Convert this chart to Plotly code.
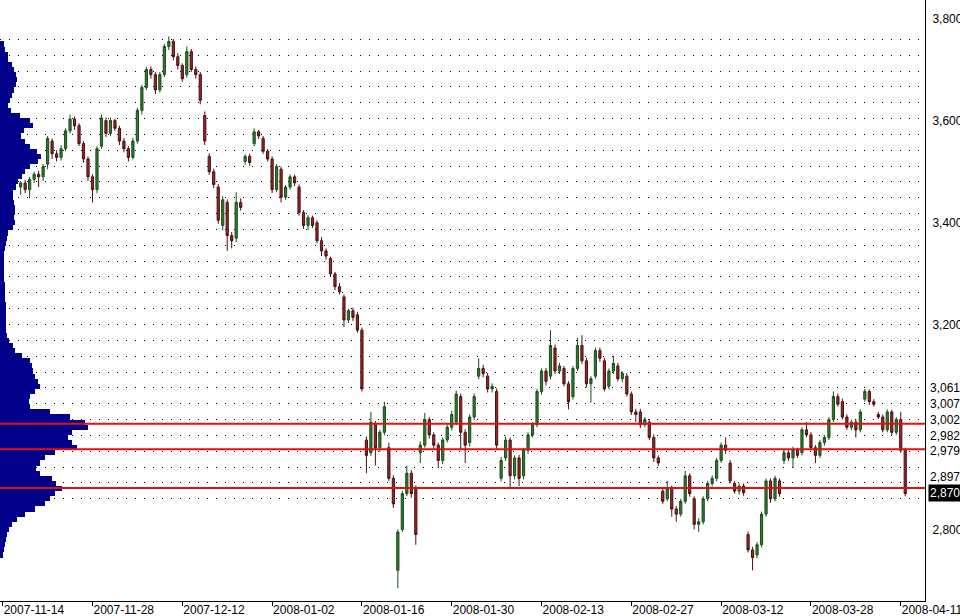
import plotly.graph_objects as go

# ---------------- data ----------------
tick_dates = ["2007-11-14", "2007-11-28", "2007-12-12", "2008-01-02", "2008-01-16",
              "2008-01-30", "2008-02-13", "2008-02-27", "2008-03-12", "2008-03-28", "2008-04-11"]
tick_bars = list(range(0, 201, 20))  # two bars per trading day, ten days between labels
first_bar = 4

open_ = [
    3470,3478,3465,3485,3495,3490,3515,3560,3535,3528,
    3545,3580,3603,3590,3555,3525,3490,3465,3550,3600,
    3575,3600,3585,3560,3545,3528,3560,3620,3665,3700,
    3690,3660,3690,3745,3755,3725,3708,3690,3735,3700,
    3690,3610,3530,3500,3470,3395,3440,3375,3370,3440,
    3520,3530,3555,3578,3565,3540,3525,3465,3505,3450,
    3470,3490,3470,3420,3395,3410,3400,3365,3345,3330,
    3300,3275,3255,3210,3228,3220,3190,2975,2950,3005,
    2960,2990,2960,2900,2720,2800,2870,2910,2880,2950,
    2965,3015,2985,2965,2935,2975,3000,3010,3060,2990,
    2970,3020,3100,3115,3100,3075,3070,2900,2940,2975,
    2905,2940,2905,2955,2985,3005,3070,3110,3100,3155,
    3110,3115,3085,3060,3115,3160,3130,3085,3100,3150,
    3130,3080,3110,3120,3095,3100,3065,3030,3030,3005,
    3010,2980,2940,2875,2860,2880,2840,2830,2855,2905,
    2860,2810,2815,2860,2890,2900,2935,2965,2930,2890,
    2875,2885,2790,2760,2750,2770,2830,2895,2860,2895,
    2935,2950,2940,2955,2950,2995,2985,2960,2945,2970,
    2980,3015,3060,3050,3020,3000,3010,2995,3055,3070,
    3050,3025,3020,2995,3030,2990,3015,2955,
]
high = [
    3482,3484,3490,3500,3502,3515,3570,3565,3542,3552,
    3585,3612,3608,3595,3560,3530,3495,3550,3612,3606,
    3606,3604,3590,3566,3550,3566,3625,3670,3705,3706,
    3695,3695,3750,3765,3760,3732,3712,3745,3740,3706,
    3695,3618,3536,3506,3476,3452,3446,3382,3460,3448,
    3534,3535,3585,3582,3570,3545,3530,3515,3510,3474,
    3495,3494,3475,3425,3415,3414,3405,3372,3350,3334,
    3304,3282,3260,3232,3234,3226,3195,2982,3030,3012,
    2995,3050,2970,2906,2800,2875,2925,2916,2886,2972,
    3028,3020,2990,2970,2980,3005,3032,3072,3066,2996,
    3025,3066,3135,3122,3106,3086,3076,2942,2982,2980,
    2945,2946,2960,2990,3010,3075,3115,3116,3190,3162,
    3126,3120,3090,3120,3175,3180,3136,3100,3156,3156,
    3136,3115,3140,3126,3110,3106,3070,3036,3036,3020,
    3016,2986,2945,2880,2895,2886,2846,2860,2915,2910,
    2865,2822,2865,2895,2906,2940,2970,2980,2936,2895,
    2890,2890,2796,2766,2775,2835,2900,2900,2905,2900,
    2956,2955,2962,2960,3000,3010,2990,2965,2975,2985,
    3020,3070,3066,3056,3025,3015,3015,3035,3075,3074,
    3055,3030,3025,3035,3034,3020,3030,2960,
]
low = [
    3455,3458,3448,3478,3470,3482,3505,3525,3520,3522,
    3540,3575,3582,3550,3518,3482,3440,3458,3545,3568,
    3570,3580,3552,3538,3520,3524,3555,3612,3660,3682,
    3652,3655,3685,3738,3718,3700,3676,3684,3695,3682,
    3632,3552,3494,3468,3398,3385,3345,3350,3362,3424,
    3514,3512,3550,3564,3535,3520,3458,3460,3440,3445,
    3465,3472,3414,3388,3386,3390,3360,3335,3328,3294,
    3268,3260,3196,3204,3208,3185,3070,2910,2944,2925,
    2952,2984,2895,2842,2685,2795,2865,2862,2770,2930,
    2960,2978,2958,2920,2928,2970,2994,3004,2955,2930,
    2962,3014,3094,3098,3068,3068,2958,2894,2934,2880,
    2898,2885,2898,2948,2980,3000,3064,3082,3094,3104,
    3104,3080,3035,3054,3110,3124,3078,3048,3095,3128,
    3070,3074,3104,3090,3088,3060,3024,3010,2998,3000,
    2975,2932,2924,2850,2855,2825,2815,2825,2850,2864,
    2800,2795,2810,2855,2884,2894,2930,2948,2890,2870,
    2868,2866,2755,2720,2744,2765,2825,2852,2855,2864,
    2928,2934,2920,2940,2945,2980,2955,2930,2940,2964,
    2975,3010,3040,3015,2995,2994,2980,2990,3050,3044,
    3040,3016,2990,2990,2985,2985,2950,2865,
]
close = [
    3478,3465,3485,3495,3490,3510,3565,3535,3528,3545,
    3580,3603,3590,3555,3525,3490,3465,3545,3605,3575,
    3600,3585,3560,3545,3528,3560,3620,3665,3700,3690,
    3660,3690,3745,3755,3725,3708,3682,3735,3700,3690,
    3640,3560,3500,3475,3405,3445,3375,3365,3440,3430,
    3530,3518,3578,3570,3540,3525,3465,3510,3450,3470,
    3490,3478,3420,3395,3410,3395,3365,3345,3335,3300,
    3275,3265,3210,3228,3215,3190,3075,2945,3010,2960,
    2990,3040,2900,2850,2795,2870,2910,2870,2790,2965,
    3015,2985,2965,2935,2975,3000,3025,3065,2990,2965,
    3020,3060,3115,3105,3075,3080,2965,2935,2975,2905,
    2940,2900,2955,2985,3005,3070,3110,3090,3160,3110,
    3120,3085,3050,3115,3160,3130,3085,3095,3150,3135,
    3075,3110,3125,3095,3105,3065,3030,3025,3005,3015,
    2980,2940,2930,2855,2880,2840,2830,2855,2905,2870,
    2810,2815,2860,2890,2900,2935,2965,2955,2895,2875,
    2885,2872,2760,2745,2770,2830,2895,2860,2900,2870,
    2950,2940,2955,2945,2995,2985,2960,2945,2970,2980,
    3015,3060,3045,3020,3000,3010,2995,3030,3070,3050,
    3045,3020,2995,3030,2990,3015,2955,2870,
]
bars = list(range(first_bar, first_bar + len(close)))

# volume-at-price profile (price bins of 10 points, top to bottom)
profile_price = list(range(3750, 2749, -10))
profile_volume = [
    4,5,8,8,12,14,16,17,16,14,
    12,10,8,11,20,30,33,24,21,25,
    30,37,41,38,30,25,22,18,16,13,
    13,14,15,15,14,15,13,8,7,6,
    5,4,4,4,4,4,4,5,5,5,
    5,6,6,6,6,6,6,7,9,13,
    15,22,30,32,33,35,38,40,35,30,
    29,30,50,70,85,88,72,68,72,77,
    55,45,40,36,40,52,56,62,55,50,
    45,35,25,17,12,9,7,6,5,4,
    3,
]

# horizontal levels
red_levels = [3007, 2957, 2881]

# right-edge price labels
level_labels = ["3,061", "3,007", "3,002", "2,982", "2,979", "2,897", "2,870"]
level_label_pos = [3077, 3045, 3014, 2983, 2953, 2902, 2871]

y_ticks = [2800, 3200, 3400, 3600, 3800]
grid_levels = [3759 - 31 * k for k in range(30)]

# ---------------- figure ----------------
FONT = "Liberation Sans, Arial, sans-serif"
fig = go.Figure()

fig.add_trace(go.Bar(
    x=profile_volume, y=profile_price, orientation="h", width=10,
    marker=dict(color="#00008b", line=dict(width=0)),
    xaxis="x2", yaxis="y", showlegend=False, hoverinfo="skip",
))

fig.add_trace(go.Candlestick(
    x=bars, open=open_, high=high, low=low, close=close,
    increasing=dict(line=dict(color="#1a4d1a", width=1), fillcolor="#2f7a2f"),
    decreasing=dict(line=dict(color="#4a1010", width=1), fillcolor="#962828"),
    whiskerwidth=0, showlegend=False, xaxis="x", yaxis="y",
))

for lv in red_levels:
    fig.add_shape(type="line", xref="paper", x0=0, x1=1, yref="y", y0=lv, y1=lv,
                  line=dict(color="#e01010", width=2), layer="above")

for txt, pos in zip(level_labels, level_label_pos):
    last = txt == level_labels[-1]
    fig.add_annotation(
        x=1, xref="paper", xanchor="left", xshift=3, y=pos, yref="y", yanchor="middle",
        text=txt, showarrow=False,
        font=dict(family=FONT, size=12, color="white" if last else "black"),
        bgcolor="black" if last else "rgba(0,0,0,0)", borderpad=1,
    )

fig.update_layout(
    width=960, height=616,
    margin=dict(l=0, r=35, t=0, b=15),
    paper_bgcolor="white", plot_bgcolor="white",
    bargap=0, showlegend=False,
    font=dict(family=FONT, size=12, color="black"),
    xaxis=dict(
        range=[-0.6, 205.4], tickmode="array", tickvals=tick_bars, ticktext=tick_dates,
        ticks="outside", ticklen=4, tickcolor="black", tickwidth=1,
        ticklabelposition="outside right", ticklabelstandoff=-2,
        ticklabeloverflow="allow",
        showline=True, linecolor="black", linewidth=1,
        showgrid=False, zeroline=False, automargin=False,
        rangeslider=dict(visible=False),
        tickfont=dict(family=FONT, size=12, color="black"),
    ),
    xaxis2=dict(range=[0, 925], overlaying="x", visible=False, automargin=False),
    yaxis=dict(
        side="right", range=[2660, 3836],
        tickmode="array", tickvals=y_ticks, tickformat=",d",
        ticks="", showline=True, linecolor="black", linewidth=1,
        showgrid=False, zeroline=False, automargin=False,
        ticklabelstandoff=4, ticklabeloverflow="allow",
        tickfont=dict(family=FONT, size=12, color="black"),
        minor=dict(tickmode="array", tickvals=grid_levels, showgrid=True,
                   gridcolor="black", gridwidth=1, griddash="1px,8px", ticks=""),
    ),
)

fig.write_html(
    "out.html",
    config={"displayModeBar": False},
    post_script="document.body.style.margin='0';document.body.style.overflow='hidden';",
)
